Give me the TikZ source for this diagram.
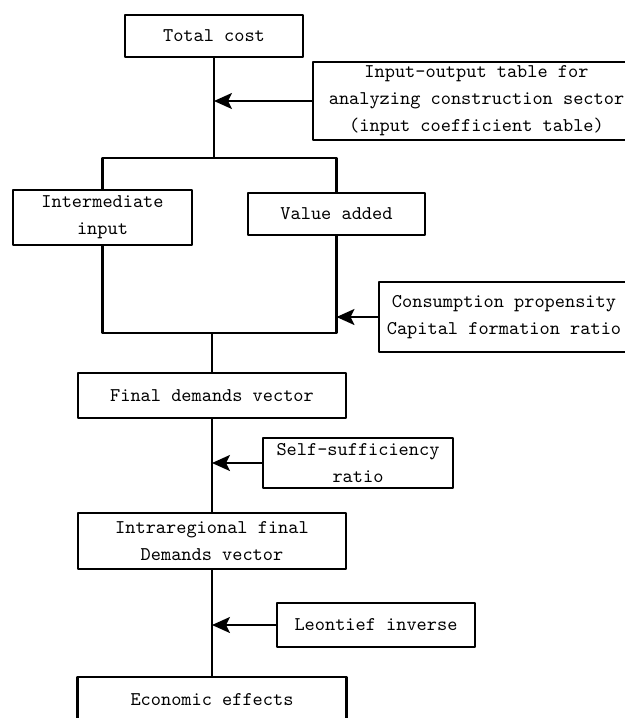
\documentclass[tikz,border=0pt]{standalone}
\usetikzlibrary{arrows.meta}
\begin{document}
\begin{tikzpicture}[x=0.5pt,y=-0.5pt,line join=round,line width=1.1pt,
  box/.style={draw,align=center,inner sep=1pt,font=\ttfamily\fontsize{9.7}{13.5}\selectfont},
  feed/.style={-{Stealth[length=9pt,width=8pt,inset=2pt]}}]
\useasboundingbox (0,0) rectangle (625,718);
\clip (0,0) rectangle (625,718);
\node[box,minimum width=89pt,minimum height=21pt] (total) at (214,36) {Total cost};
\node[box,minimum width=163.5pt,minimum height=39pt] (iotab) at (476.5,101) {Input-output table for\\analyzing construction sector\\(input coefficient table)};
\node[box,minimum width=89.5pt,minimum height=27.5pt] (inter) at (102.5,217.5) {Intermediate\\input};
\node[box,minimum width=88.5pt,minimum height=21pt] (value) at (336.5,214) {Value added};
\node[box,minimum width=125pt,minimum height=35pt] (cons) at (504,317) {Consumption propensity\\Capital formation ratio};
\node[box,minimum width=134pt,minimum height=22.5pt] (final) at (212,395.5) {Final demands vector};
\node[box,minimum width=95pt,minimum height=25pt] (self) at (358,463) {Self-sufficiency\\ratio};
\node[box,minimum width=134pt,minimum height=28pt] (intra) at (212,541) {Intraregional final\\Demands vector};
\node[box,minimum width=99pt,minimum height=22pt] (leon) at (376,625) {Leontief inverse};
\node[box,minimum width=134.5pt,minimum height=22.5pt] (econ) at (212,699.5) {Economic effects};
\coordinate (split) at (214,158);
\coordinate (merge) at (212,333);
\draw (total) -- (split);
\draw (inter.north) |- (split) -| (value.north);
\draw (inter.south) |- (merge) -| (value.south);
\draw (merge) -- (final);
\draw (final) -- (intra);
\draw (intra) -- (econ);
\draw[feed] (iotab.west) -- (iotab.west -| total);
\draw[feed] (cons.west) -- (cons.west -| value.south);
\draw[feed] (self.west) -- (self.west -| final);
\draw[feed] (leon.west) -- (leon.west -| intra);
\end{tikzpicture}
\end{document}
